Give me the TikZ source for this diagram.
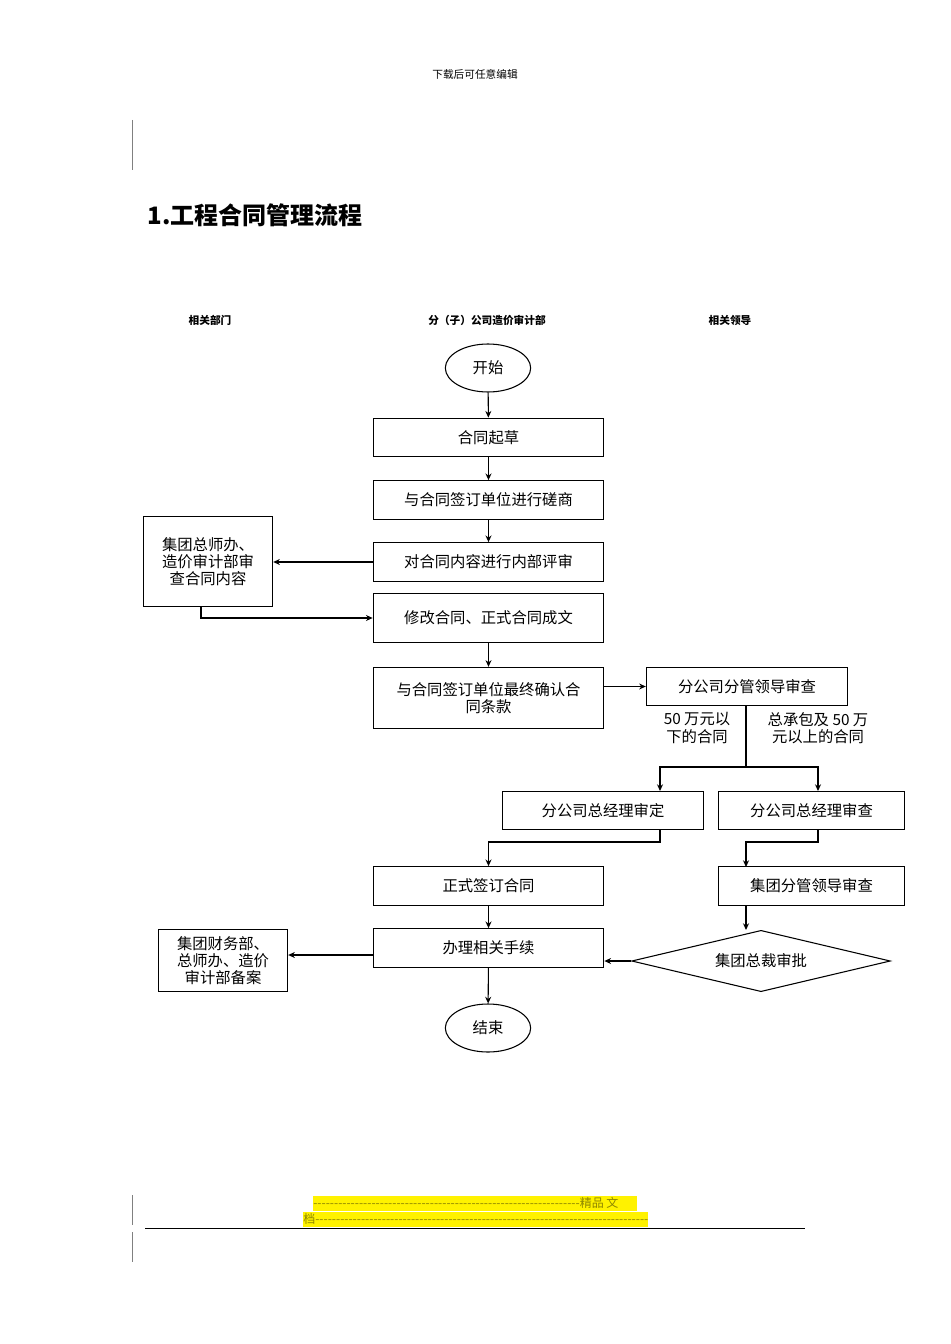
\documentclass[tikz,border=0pt]{standalone}
\usepackage{fontspec}
\setmainfont{Noto Sans CJK SC}
\usetikzlibrary{shapes.geometric,arrows.meta}
\tikzset{
  box/.style={draw,line width=0.8pt,rectangle,align=center,font=\fontsize{11.5}{13}\selectfont,inner sep=1pt},
  term/.style={draw,line width=0.8pt,ellipse,minimum width=64pt,minimum height=36pt,font=\fontsize{11.5}{13}\selectfont},
  arr/.style={line width=0.8pt,-{Stealth[length=5pt,width=4.5pt]}},
  head/.style={font=\fontsize{8}{9}\selectfont\bfseries}
}
\newcommand\dashrun[1]{\foreach\i in {1,...,#1}{-}}
\begin{document}
\begin{tikzpicture}[x=0.75pt,y=-0.75pt]
\useasboundingbox (0,0) rectangle (950,1344);
\node[font=\fontsize{8}{9}\selectfont] (hdr) at (475,74) {下载后可任意编辑};
\draw[gray] (132,120) -- (132,170);
\node[anchor=west,font=\fontsize{18}{20}\selectfont\bfseries] (title) at (143,215) {1.工程合同管理流程};
% column heads
\node[head] (colA) at (210,320) {相关部门};
\node[head] (colB) at (487,320) {分（子）公司造价审计部};
\node[head] (colC) at (730,320) {相关领导};
% main column
\node[term] (start) at (488,368) {开始};
\node[box,minimum width=173pt,minimum height=29pt] (draft) at (488.5,437.5) {合同起草};
\node[box,minimum width=173pt,minimum height=29pt] (nego) at (488.5,500) {与合同签订单位进行磋商};
\node[box,minimum width=173pt,minimum height=29pt] (review) at (488.5,562) {对合同内容进行内部评审};
\node[box,minimum width=97pt,minimum height=67pt] (grp) at (208,561.5) {集团总师办、\\造价审计部审\\查合同内容};
\node[box,minimum width=173pt,minimum height=37pt] (revise) at (488.5,618) {修改合同、正式合同成文};
\node[box,minimum width=173pt,minimum height=46pt] (confirm) at (488.5,698) {与合同签订单位最终确认合\\同条款};
\node[box,minimum width=151pt,minimum height=29pt] (lead) at (747,686.5) {分公司分管领导审查};
\node[align=center,font=\fontsize{11.5}{13}\selectfont] (lbA) at (697,728) {50 万元以\\下的合同};
\node[align=center,font=\fontsize{11.5}{13}\selectfont] (lbB) at (818,728) {总承包及 50 万\\元以上的合同};
\coordinate (split) at (746,767);
\node[box,minimum width=151pt,minimum height=29pt] (gmA) at (603,810.5) {分公司总经理审定};
\node[box,minimum width=140pt,minimum height=29pt] (gmB) at (811.5,810.5) {分公司总经理审查};
\node[box,minimum width=173pt,minimum height=29pt] (sign) at (488.5,886) {正式签订合同};
\node[box,minimum width=140pt,minimum height=29pt] (glead) at (811.5,886) {集团分管领导审查};
\node[box,minimum width=173pt,minimum height=29pt] (proc) at (488.5,948) {办理相关手续};
\node[draw,line width=0.8pt,diamond,aspect=4.2,minimum width=194pt,minimum height=46pt,inner sep=0pt,font=\fontsize{11.5}{13}\selectfont] (ceo) at (761,961) {集团总裁审批};
\node[box,minimum width=97pt,minimum height=47pt] (fin) at (223,960.5) {集团财务部、\\总师办、造价\\审计部备案};
\node[term] (stop) at (488,1028) {结束};
% connectors
\draw[arr] (start) -- (draft);
\draw[arr] (draft) -- (nego);
\draw[arr] (nego) -- (review);
\draw[arr] (review.west) -- (grp.east |- review.west);
\draw[arr] (201,606) -- (201,618) -- (revise.west |- 0,618);
\draw[arr] (revise) -- (confirm);
\draw[arr] (confirm.east |- lead) -- (lead);
\draw[line width=0.8pt] (lead.south -| split) -- (split);
\draw[arr] (split) -| (660,791);
\draw[arr] (split) -| (818,791);
\draw[arr] (660,830) -- (660,842) -| (sign.north);
\draw[arr] (818,830) -- (818,842) -| (746,867);
\draw[arr] (sign) -- (proc);
\draw[arr] (746,905) -- (746,930);
\draw[arr] (ceo.west) -- (proc.east |- ceo.west);
\draw[arr] (proc.west |- 0,955) -- (fin.east |- 0,955);
\draw[arr] (proc) -- (stop);
% footer
\fill[yellow] (313,1196) rectangle (637,1211);
\fill[yellow] (303,1212) rectangle (648,1227);
\node[anchor=west,inner sep=0pt,text=olive,font=\fontsize{9}{10}\selectfont] (ftA) at (313,1203) {\dashrun{64}精品\ 文};
\node[anchor=west,inner sep=0pt,text=olive,font=\fontsize{9}{10}\selectfont] (ftB) at (303,1219) {档\dashrun{80}};
\draw (145,1228) -- (805,1228);
\draw[gray] (132,1195) -- (132,1225);
\draw[gray] (132,1232) -- (132,1262);
\end{tikzpicture}
\end{document}
